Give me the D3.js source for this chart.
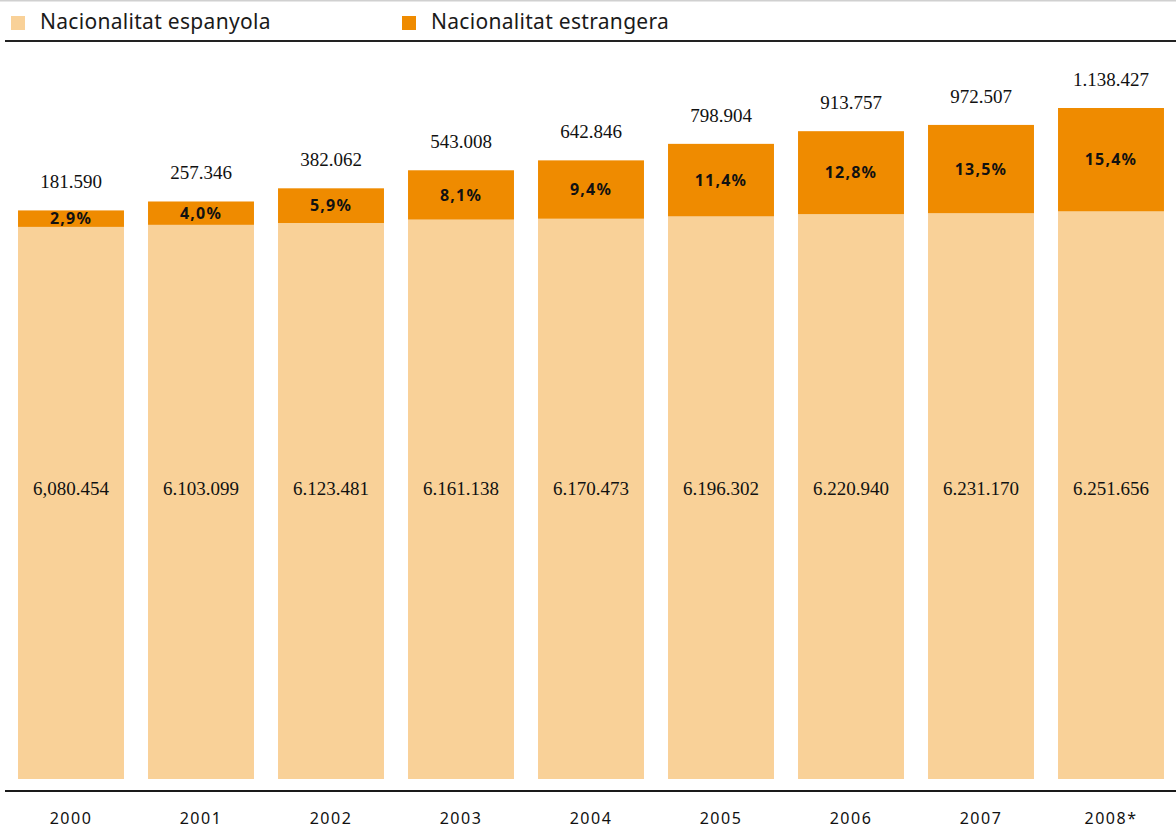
<!DOCTYPE html>
<html>
<head>
<meta charset="utf-8">
<script src="https://cdn.jsdelivr.net/npm/d3@7"></script>
<style>
    body { margin: 0; background: white; }
    svg { display: block; }
    .legend-label { font-family: "Noto Sans", sans-serif; font-size: 21px; fill: #1a1a1a; letter-spacing: 0.3px; }
    .year-label { font-family: "Noto Sans", sans-serif; font-size: 16px; fill: #111; letter-spacing: 1.5px; }
    .pct-label { font-family: "Noto Sans", sans-serif; font-size: 16px; font-weight: 700; fill: #111; letter-spacing: 1.2px; }
    .value-label { font-family: "Liberation Serif", serif; font-size: 19px; fill: #111; }
</style>
</head>
<body>
<div class="mainview"></div>
<script>

const years = ["2000", "2001", "2002", "2003", "2004", "2005", "2006", "2007", "2008*"];
const spanish = [6080454, 6103099, 6123481, 6161138, 6170473, 6196302, 6220940, 6231170, 6251656];
const foreign = [181590, 257346, 382062, 543008, 642846, 798904, 913757, 972507, 1138427];
const spanishLabels = ["6,080.454", "6.103.099", "6.123.481", "6.161.138", "6.170.473", "6.196.302", "6.220.940", "6.231.170", "6.251.656"];
const foreignLabels = ["181.590", "257.346", "382.062", "543.008", "642.846", "798.904", "913.757", "972.507", "1.138.427"];
const pctLabels = ["2,9%", "4,0%", "5,9%", "8,1%", "9,4%", "11,4%", "12,8%", "13,5%", "15,4%"];
const seriesNames = ["Nacionalitat espanyola", "Nacionalitat estrangera"];

const dim = { width: 1176, height: 828 };
const colors = { spanish: "#f9d198", foreign: "#ef8b00" };

const data = years.map((yr, i) => ({
    year: yr,
    es: spanish[i],
    fo: foreign[i],
    esLabel: spanishLabels[i],
    foLabel: foreignLabels[i],
    pct: pctLabels[i]
}));

const svg = d3.select(".mainview").append("svg")
    .attr("width", dim.width)
    .attr("height", dim.height)
    .attr("viewBox", [0, 0, dim.width, dim.height]);

const x = d3.scaleBand()
    .domain(years)
    .range([6, 1176])
    .paddingInner(0.185)
    .paddingOuter(0.0925);

const y = d3.scaleLinear()
    .domain([0, d3.max(data, d => d.es + d.fo)])
    .range([779, 108]);

// top rule & legend ////////////////////////

svg.append("line")
    .attr("x1", 0).attr("x2", dim.width)
    .attr("y1", 0.5).attr("y2", 0.5)
    .attr("stroke", "#d0d0d0")
    .attr("stroke-width", 2);

const legend = svg.append("g")
    .selectAll("g")
    .data(seriesNames)
    .join("g")
    .attr("transform", (d, i) => `translate(${ i === 0 ? 11 : 402 }, 16)`);

legend.append("rect")
    .attr("width", 14).attr("height", 14)
    .attr("fill", (d, i) => i === 0 ? colors.spanish : colors.foreign);

legend.append("text")
    .attr("class", "legend-label")
    .attr("x", 29)
    .attr("y", 13)
    .text(d => d);

svg.append("line")
    .attr("x1", 5).attr("x2", dim.width)
    .attr("y1", 41).attr("y2", 41)
    .attr("stroke", "#222")
    .attr("stroke-width", 2);

// bars /////////////////////////////////////

const bars = svg.append("g")
    .selectAll("g")
    .data(data)
    .join("g");

bars.append("rect")
    .attr("x", d => x(d.year))
    .attr("y", d => y(d.es))
    .attr("width", x.bandwidth())
    .attr("height", d => y(0) - y(d.es))
    .attr("fill", colors.spanish);

bars.append("rect")
    .attr("x", d => x(d.year))
    .attr("y", d => y(d.es + d.fo))
    .attr("width", x.bandwidth())
    .attr("height", d => y(d.es) - y(d.es + d.fo))
    .attr("fill", colors.foreign);

bars.append("text")
    .attr("class", "pct-label")
    .attr("text-anchor", "middle")
    .attr("x", d => x(d.year) + x.bandwidth() / 2)
    .attr("y", d => (y(d.es) + y(d.es + d.fo)) / 2)
    .attr("dy", "0.36em")
    .text(d => d.pct);

bars.append("text")
    .attr("class", "value-label")
    .attr("text-anchor", "middle")
    .attr("x", d => x(d.year) + x.bandwidth() / 2)
    .attr("y", d => y(d.es + d.fo) - 22)
    .text(d => d.foLabel);

bars.append("text")
    .attr("class", "value-label")
    .attr("text-anchor", "middle")
    .attr("x", d => x(d.year) + x.bandwidth() / 2)
    .attr("y", y(3200000))
    .attr("dy", "0.35em")
    .text(d => d.esLabel);

// x axis ///////////////////////////////////

const xAxis = d3.axisBottom(x)
    .tickSize(0)
    .tickPadding(0);

svg.append("g")
    .attr("transform", "translate(0, 824)")
    .call(xAxis)
    .call(g => g.select(".domain").remove())
    .call(g => g.selectAll("text")
        .attr("class", "year-label")
        .attr("dy", null)
        .attr("y", 0)
        .attr("fill", null)
        .attr("font-family", null)
        .attr("font-size", null));

svg.append("line")
    .attr("x1", 5).attr("x2", dim.width)
    .attr("y1", 791).attr("y2", 791)
    .attr("stroke", "#1a1a1a")
    .attr("stroke-width", 2);

</script>
</body>
</html>
